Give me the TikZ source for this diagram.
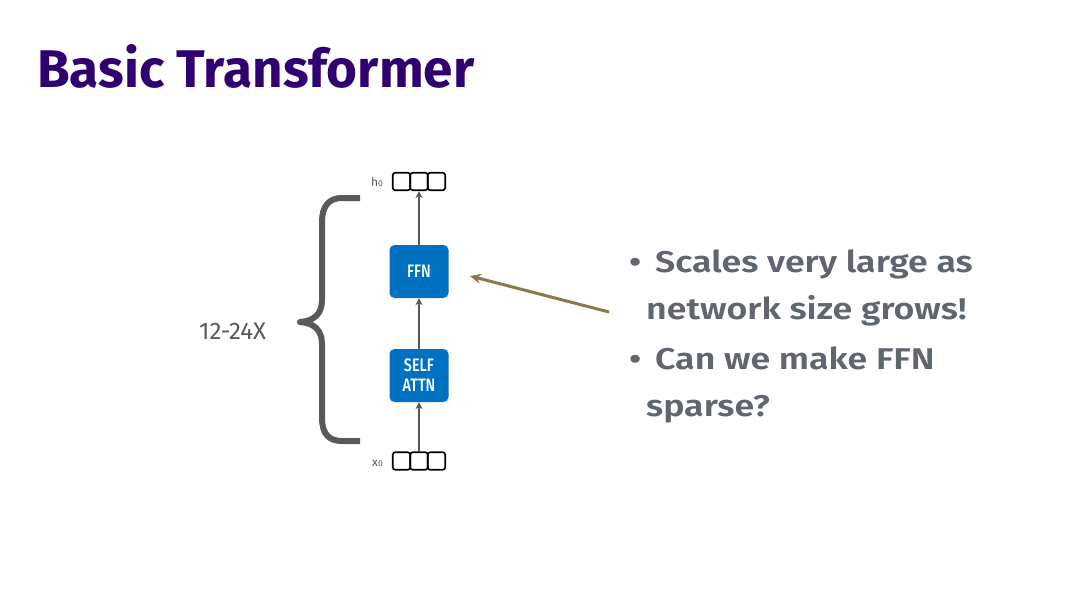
\documentclass[tikz,border=0pt]{standalone}
\usepackage{fontspec}
\setmainfont{Fira Sans}
\newfontfamily\semib[FakeStretch=1.19]{Fira Sans SemiBold}
\newfontfamily\condf{Fira Sans}
\newfontfamily\condm[FakeStretch=0.8]{Fira Sans Medium}
\usetikzlibrary{arrows.meta}
\definecolor{titlec}{HTML}{310070}
\definecolor{bodyc}{HTML}{5F6670}
\definecolor{bracec}{HTML}{595959}
\definecolor{boxc}{HTML}{0070C0}
\definecolor{goldc}{HTML}{8C7848}
\begin{document}
\begin{tikzpicture}[x=1pt,y=-1pt,
  vec/.style={draw=black,line width=1.6pt,rounded corners=2.5pt,minimum width=17.5pt,minimum height=17.5pt,inner sep=0pt},
  block/.style={fill=boxc,rounded corners=5pt,minimum width=59pt,minimum height=53pt,inner sep=0pt,text=white,font=\condm\fontsize{18}{20}\selectfont,align=center},
  flow/.style={draw=bracec,line width=2.4pt,-{Stealth[length=7pt,width=7pt]}},
  lab/.style={text=bracec,font=\fontsize{12}{13}\selectfont,inner sep=0pt},
  bul/.style={text=bodyc,font=\semib\fontsize{30}{32}\selectfont,inner sep=0pt,anchor=base west}]
\useasboundingbox (0,0) rectangle (1080,608);
\fill[white] (0,0) rectangle (1080,608);
% title
\node[anchor=base west,inner sep=0pt,text=titlec,font=\bfseries\fontsize{53}{56}\selectfont] (title) at (37,87) {Basic Transformer};
% vectors
\node[vec] (h1) at (401.5,181.5) {};
\node[vec] (h2) at (419,181.5) {};
\node[vec] (h3) at (436.5,181.5) {};
\node[vec] (x1) at (401.5,461) {};
\node[vec] (x2) at (419,461) {};
\node[vec] (x3) at (436.5,461) {};
\node[lab,anchor=base east] (hl) at (383,186) {h{\fontsize{8.5}{9}\selectfont 0}};
\node[lab,anchor=base east] (xl) at (383,466) {x{\fontsize{8.5}{9}\selectfont 0}};
% blocks
\node[block] (ffn) at (419,271.5) {FFN};
\node[block] (attn) at (419,375.5) {SELF\\ATTN};
% flow arrows
\draw[flow] (x2.north) -- (attn.south);
\draw[flow] (attn.north) -- (ffn.south);
\draw[flow] (ffn.north) -- (h2.south);
% brace
\draw[bracec,line width=6pt,line join=round] (360,198) -- (342,198) .. controls (329,198) and (322,206) .. (322,222) -- (322,300) .. controls (322,314) and (314,321) .. (300,322) .. controls (314,323) and (322,330) .. (322,344) -- (322,418) .. controls (322,434) and (329,441) .. (342,441) -- (360,441);
\node[text=bracec,font=\condf\fontsize{24}{26}\selectfont,inner sep=0pt,anchor=base west] (rep) at (199,339) {12-24X};
% bullets
\node[bul] (d1) at (629,272) {\textbullet};
\node[bul] (b1) at (655,272) {Scales very large as};
\node[bul] (b1b) at (646,319) {network size grows!};
\node[bul] (d2) at (629,369) {\textbullet};
\node[bul] (b2) at (655,369) {Can we make FFN};
\node[bul] (b2b) at (646,416) {sparse?};
% pointer arrow
\coordinate (tail) at (609,312);
\coordinate (tip) at (470,276);
\draw[goldc,line width=3pt,-{Stealth[length=11pt,width=10pt]}] (tail) -- (tip);
\end{tikzpicture}
\end{document}
